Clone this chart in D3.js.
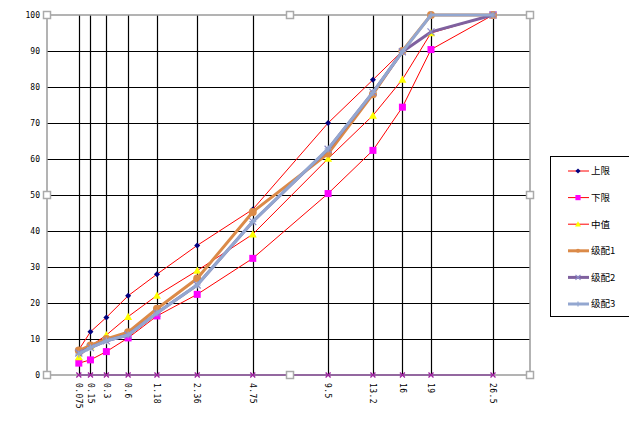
<!DOCTYPE html>
<html><head><meta charset="utf-8">
<script src="https://cdn.jsdelivr.net/npm/d3@7"></script>
<style>
html,body{margin:0;padding:0;background:#fff;}
svg{display:block;}
</style></head>
<body>
<svg id="c" width="629" height="430"></svg>
<script>
const sieves = [0.075, 0.15, 0.3, 0.6, 1.18, 2.36, 4.75, 9.5, 13.2, 16, 19, 26.5];
const sieveLabels = ["0.075","0.15","0.3","0.6","1.18","2.36","4.75","9.5","13.2","16","19","26.5"];
const yTicks = [0,10,20,30,40,50,60,70,80,90,100];
const upper  = [7, 12, 16, 22, 28, 36, 46, 70, 82, 90, 100, 100];
const lower  = [3.3, 4.2, 6.5, 10.3, 16.4, 22.4, 32.4, 50.4, 62.4, 74.4, 90.4, 100];
const middle = [5, 8, 11.1, 16.2, 22.1, 29, 39.1, 60.1, 72.1, 82.1, 95, 100];
const grade1 = [6.8, 8.2, 10, 11.9, 18.4, 26.8, 45.3, 61.5, 78, 90, 100, 100];
const grade2 = [6.1, 7.6, 9.5, 11.1, 17.2, 25, 42.6, 62.7, 78.5, 89.8, 95.3, 100];
const grade3 = [5.8, 7.6, 9.5, 11.1, 17.2, 25, 42.6, 62.8, 78.5, 89.8, 100, 100];
const baseSeries = [0,0,0,0,0,0,0,0,0,0,0,0];
const names = ["上限","下限","中值","级配1","级配2","级配3"];

const svg = d3.select("#c");
const x = d3.scalePow().exponent(0.45).domain([0, 26.5]).range([47, 493]);
const y = d3.scaleLinear().domain([0, 100]).range([375, 15]);
const frameRight = 530;

// horizontal grid
svg.append("g").selectAll("line").data(yTicks.filter(v => v > 0 && v < 100)).join("line")
  .attr("x1", 47).attr("x2", frameRight).attr("y1", d => Math.round(y(d))+0.5).attr("y2", d => Math.round(y(d))+0.5)
  .attr("stroke", "#000").attr("stroke-width", 1.2);
// vertical grid
svg.append("g").selectAll("line").data(sieves).join("line")
  .attr("x1", d => Math.round(x(d))+0.5).attr("x2", d => Math.round(x(d))+0.5).attr("y1", y(100)).attr("y2", y(0))
  .attr("stroke", "#000").attr("stroke-width", 1.2);

// frame
svg.append("rect").attr("x", 47).attr("y", 15).attr("width", frameRight-47).attr("height", 360)
  .attr("fill", "none").attr("stroke", "#9a9a9a").attr("stroke-width", 1.5);

// y axis labels
const yAxis = d3.axisLeft(y).tickValues(yTicks).tickSize(0).tickPadding(7).tickFormat(d3.format("d"));
const yg = svg.append("g").attr("transform", "translate(47,0)").call(yAxis);
yg.select(".domain").remove();
yg.selectAll("text").attr("font-family", "DejaVu Sans Mono").attr("font-size", 8).attr("fill", "#000");

// x axis labels (rotated)
const xg = svg.append("g").attr("transform", "translate(0,375)");
xg.selectAll("text").data(sieves).join("text")
  .attr("transform", (d) => `translate(${x(d)},8) rotate(90)`)
  .attr("dy", "0.35em")
  .attr("font-family", "DejaVu Sans Mono").attr("font-size", 8).attr("letter-spacing", 0.4).attr("fill", "#000")
  .text((d,i) => sieveLabels[i]);

// base (hidden) series along 0
const line = d3.line().x((d,i) => x(sieves[i])).y(d => y(d));
svg.append("path").datum(baseSeries).attr("d", line).attr("fill","none").attr("stroke","#8a4f9a").attr("stroke-width",1.5);
svg.append("g").selectAll("path").data(baseSeries).join("path")
  .attr("transform",(d,i)=>`translate(${x(sieves[i])},${y(d)})`)
  .attr("d","M-2.5,-2.5L2.5,2.5M-2.5,2.5L2.5,-2.5").attr("stroke","#a020a0").attr("stroke-width",1.3);

const series = [
  {name:names[0], data:upper, color:"#ff0000", w:1, marker:"diamond", mcolor:"#000080", ms:3, lms:2.6},
  {name:names[1], data:lower, color:"#ff0000", w:1, marker:"square", mcolor:"#ff00ff", ms:3.5, lms:2.6},
  {name:names[2], data:middle, color:"#ff0000", w:1, marker:"triangle", mcolor:"#ffff00", ms:4, lms:3},
  {name:names[3], data:grade1, color:"#db8a48", w:3, marker:"circle", mcolor:"#db8a48", ms:4, lms:2},
  {name:names[4], data:grade2, color:"#7f619f", w:3, marker:"x", mcolor:"#8a8ac8", ms:3.5, lms:2.5},
  {name:names[5], data:grade3, color:"#93a7d0", w:3, marker:"plus", mcolor:"#93a7d0", ms:3.5, lms:2.5},
];

function drawMarker(g, type, color, s) {
  if (type === "diamond") g.append("path").attr("d",`M0,${-s}L${s},0L0,${s}L${-s},0Z`).attr("fill",color);
  else if (type === "square") g.append("rect").attr("x",-s).attr("y",-s).attr("width",2*s).attr("height",2*s).attr("fill",color);
  else if (type === "triangle") g.append("path").attr("d",`M0,${-s}L${s},${s*0.8}L${-s},${s*0.8}Z`).attr("fill",color);
  else if (type === "circle") g.append("circle").attr("r",s).attr("fill",color);
  else if (type === "x") g.append("path").attr("d",`M${-s},${-s}L${s},${s}M${-s},${s}L${s},${-s}`).attr("stroke",color).attr("stroke-width",1.2).attr("fill","none");
  else if (type === "plus") g.append("path").attr("d",`M${-s},0L${s},0M0,${-s}L0,${s}`).attr("stroke",color).attr("stroke-width",1.2).attr("fill","none");
}

series.forEach(s => {
  svg.append("path").datum(s.data).attr("d", line).attr("fill","none")
    .attr("stroke", s.color).attr("stroke-width", s.w).attr("stroke-linejoin","round");
  s.data.forEach((v,i) => {
    const g = svg.append("g").attr("transform", `translate(${x(sieves[i])},${y(v)})`);
    drawMarker(g, s.marker, s.mcolor, s.ms);
  });
});

// handles
const hx = [47, 290, frameRight], hy = [15, 195, 375];
hx.forEach(a => hy.forEach(b => {
  if (a === 290 && b === 195) return;
  svg.append("rect").attr("x", a-3.5).attr("y", b-3.5).attr("width", 7).attr("height", 7)
    .attr("fill","#fff").attr("stroke","#aaa").attr("stroke-width",1.5);
}));

// legend
const lg = svg.append("g");
lg.append("rect").attr("x", 550.5).attr("y", 156.5).attr("width", 100).attr("height", 160)
  .attr("fill","#fff").attr("stroke","#000").attr("stroke-width",1);
series.forEach((s,i) => {
  const ly = 171 + i*26.6;
  lg.append("line").attr("x1",568).attr("x2",589).attr("y1",ly).attr("y2",ly)
    .attr("stroke",s.color).attr("stroke-width",s.w);
  const g = lg.append("g").attr("transform",`translate(578,${ly})`);
  drawMarker(g, s.marker, s.mcolor, s.lms);
  lg.append("text").attr("x",591).attr("y",ly).attr("dy","0.35em")
    .attr("font-family","Noto Sans CJK SC").attr("font-size",9.5).attr("fill","#000").text(s.name);
});
</script>
</body></html>
